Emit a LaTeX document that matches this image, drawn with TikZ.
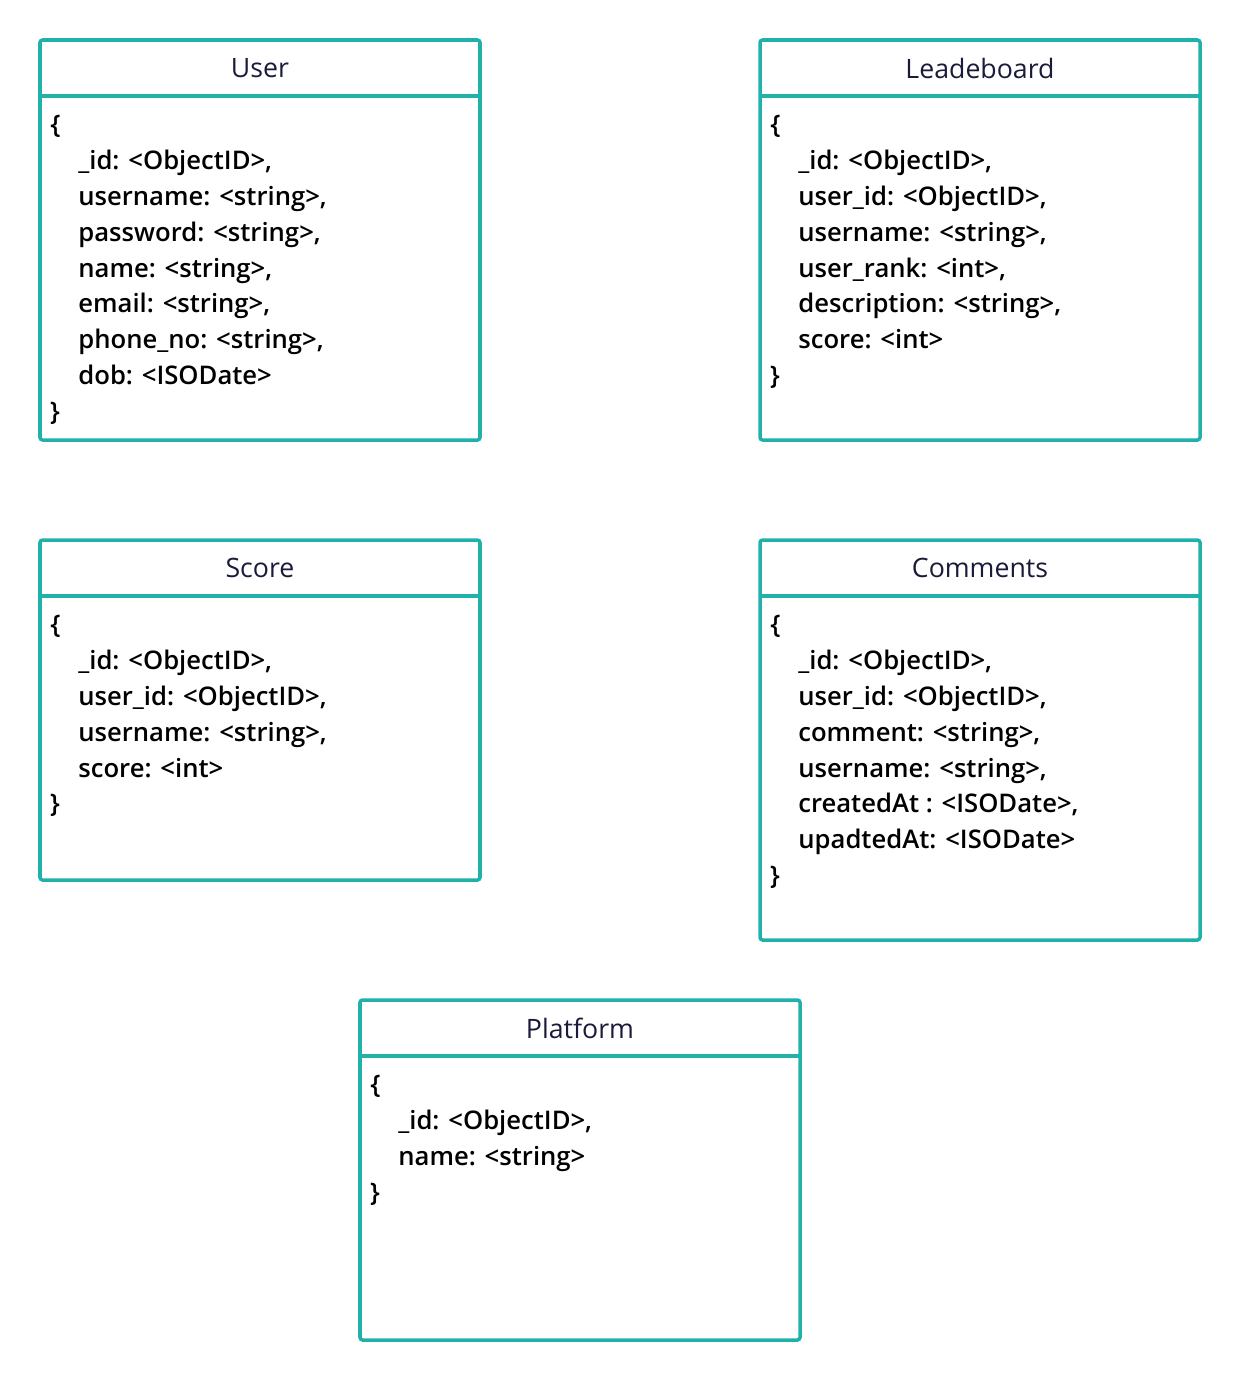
\documentclass[tikz,border=0pt]{standalone}
\usepackage{fontspec}
\setmainfont{Open Sans}
\newfontfamily\bodyfont{Open Sans}[UprightFont=* Semibold]
\definecolor{boxteal}{HTML}{20B2AA}
\definecolor{titlenavy}{HTML}{1A1A3A}
\tikzset{
  box/.style = {draw = boxteal, line width = 2pt, rounded corners = 1.5pt},
  title/.style = {font = \fontsize{15.2}{18}\selectfont, text = titlenavy},
  body/.style = {font = \bodyfont\fontsize{14.6}{20.4}\selectfont, align = left, inner sep = 0pt, anchor = north west}
}
% entity box: name, left x, top y, height, title, body
\newcommand\entity[6]{
  \draw [box] (#2,#3) rectangle ++(440,#4);
  \draw [box, rounded corners = 0pt] (#2,#3+56) -- ++(440,0);
  \node [title] (#1) at (#2+220,#3+28) {#5};
  \node [body] (#1-body) at (#2+10,#3+75) {#6};
}
\newcommand\ind{\hspace*{0.56cm}}
\begin{document}
\begin{tikzpicture}[x = 0.02cm, y = -0.02cm]
\useasboundingbox (0,0) rectangle (1240,1380);
\entity{user}{40}{40}{400}{User}{\{\\
\ind\_id: <ObjectID>,\\
\ind username: <string>,\\
\ind password: <string>,\\
\ind name: <string>,\\
\ind email: <string>,\\
\ind phone\_no: <string>,\\
\ind dob: <ISODate>\\
\}}
\entity{leaderboard}{760}{40}{400}{Leadeboard}{\{\\
\ind\_id: <ObjectID>,\\
\ind user\_id: <ObjectID>,\\
\ind username: <string>,\\
\ind user\_rank: <int>,\\
\ind description: <string>,\\
\ind score: <int>\\
\}}
\entity{score}{40}{540}{340}{Score}{\{\\
\ind\_id: <ObjectID>,\\
\ind user\_id: <ObjectID>,\\
\ind username: <string>,\\
\ind score: <int>\\
\}}
\entity{comments}{760}{540}{400}{Comments}{\{\\
\ind\_id: <ObjectID>,\\
\ind user\_id: <ObjectID>,\\
\ind comment: <string>,\\
\ind username: <string>,\\
\ind createdAt : <ISODate>,\\
\ind upadtedAt: <ISODate>\\
\}}
\entity{platform}{360}{1000}{340}{Platform}{\{\\
\ind\_id: <ObjectID>,\\
\ind name: <string>\\
\}}
\end{tikzpicture}
\end{document}
